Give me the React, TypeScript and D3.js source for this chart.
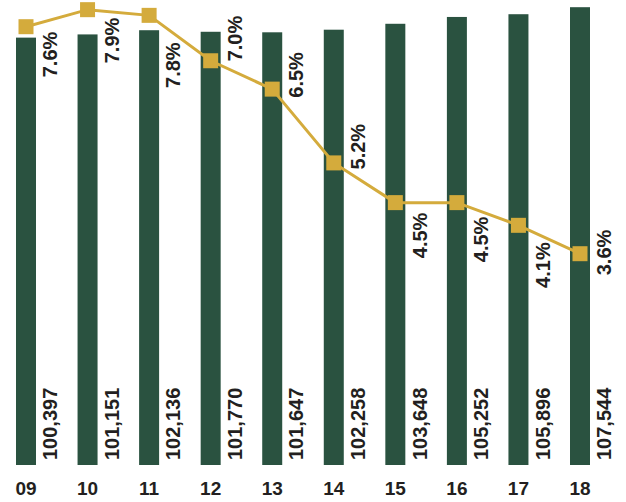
import React from "react";
import * as d3 from "d3";

const years = ["09", "10", "11", "12", "13", "14", "15", "16", "17", "18"];
const totals = [100397, 101151, 102136, 101770, 101647, 102258, 103648, 105252, 105896, 107544];
const rates = [7.6, 7.9, 7.8, 7.0, 6.5, 5.2, 4.5, 4.5, 4.1, 3.6];
const rateLabels = ["7.6%", "7.9%", "7.8%", "7.0%", "6.5%", "5.2%", "4.5%", "4.5%", "4.1%", "3.6%"];

// layout nudges (px) for rate labels, relative to each marker
const rateLabelNudge = [5, 8, 27, -45, -37, -39, 10, 14, 17, -24];

const W = 626;
const H = 502;
const GREEN = "#2a5240";
const GOLD = "#d4ab3c";
const INK = "#231f20";
const FONT = "'Liberation Sans', Arial, Helvetica, sans-serif";

export default function App() {
  const x = d3.scalePoint<string>().domain(years).range([26, 580]);
  const yBar = d3.scaleLinear().domain([0, 109000]).range([465, 1]);
  const yRate = d3.scaleLinear().domain([0, 8]).range([458, 4]);
  const barW = 20;
  const mk = 15;

  const line = d3
    .line<number>()
    .x((_, i) => x(years[i]) as number)
    .y((d) => yRate(d));

  return (
    <svg
      width={W}
      height={H}
      style={{ position: "absolute", left: 0, top: 0, display: "block" }}
      fontFamily={FONT}
    >
      <rect width={W} height={H} fill="#fff" />
      {years.map((yr, i) => {
        const cx = x(yr) as number;
        return (
          <rect
            key={"b" + yr}
            x={cx - barW / 2}
            y={yBar(totals[i])}
            width={barW}
            height={yBar(0) - yBar(totals[i])}
            fill={GREEN}
          />
        );
      })}
      {years.map((yr, i) => {
        const cx = (x(yr) as number) + 24;
        const cy = 460;
        return (
          <text
            key={"v" + yr}
            transform={`translate(${cx},${cy}) rotate(-90)`}
            dy="0.36em"
            textAnchor="start"
            fontSize={20}
            fontWeight="bold"
            fill={INK}
          >
            {d3.format(",")(totals[i])}
          </text>
        );
      })}
      <path d={line(rates) || ""} fill="none" stroke={GOLD} strokeWidth={3} />
      {rates.map((r, i) => {
        const cx = x(years[i]) as number;
        return (
          <rect
            key={"m" + i}
            x={cx - mk / 2}
            y={yRate(r) - mk / 2}
            width={mk}
            height={mk}
            fill={GOLD}
          />
        );
      })}
      {rates.map((r, i) => {
        const cx = (x(years[i]) as number) + 24;
        const cy = yRate(r) + rateLabelNudge[i];
        return (
          <text
            key={"r" + i}
            transform={`translate(${cx},${cy}) rotate(-90)`}
            dy="0.36em"
            textAnchor="end"
            fontSize={20}
            fontWeight="bold"
            fill={INK}
          >
            {rateLabels[i]}
          </text>
        );
      })}
      {years.map((yr) => (
        <text
          key={"x" + yr}
          x={x(yr) as number}
          y={495}
          textAnchor="middle"
          fontSize={19}
          fontWeight="bold"
          fill={INK}
        >
          {yr}
        </text>
      ))}
    </svg>
  );
}
